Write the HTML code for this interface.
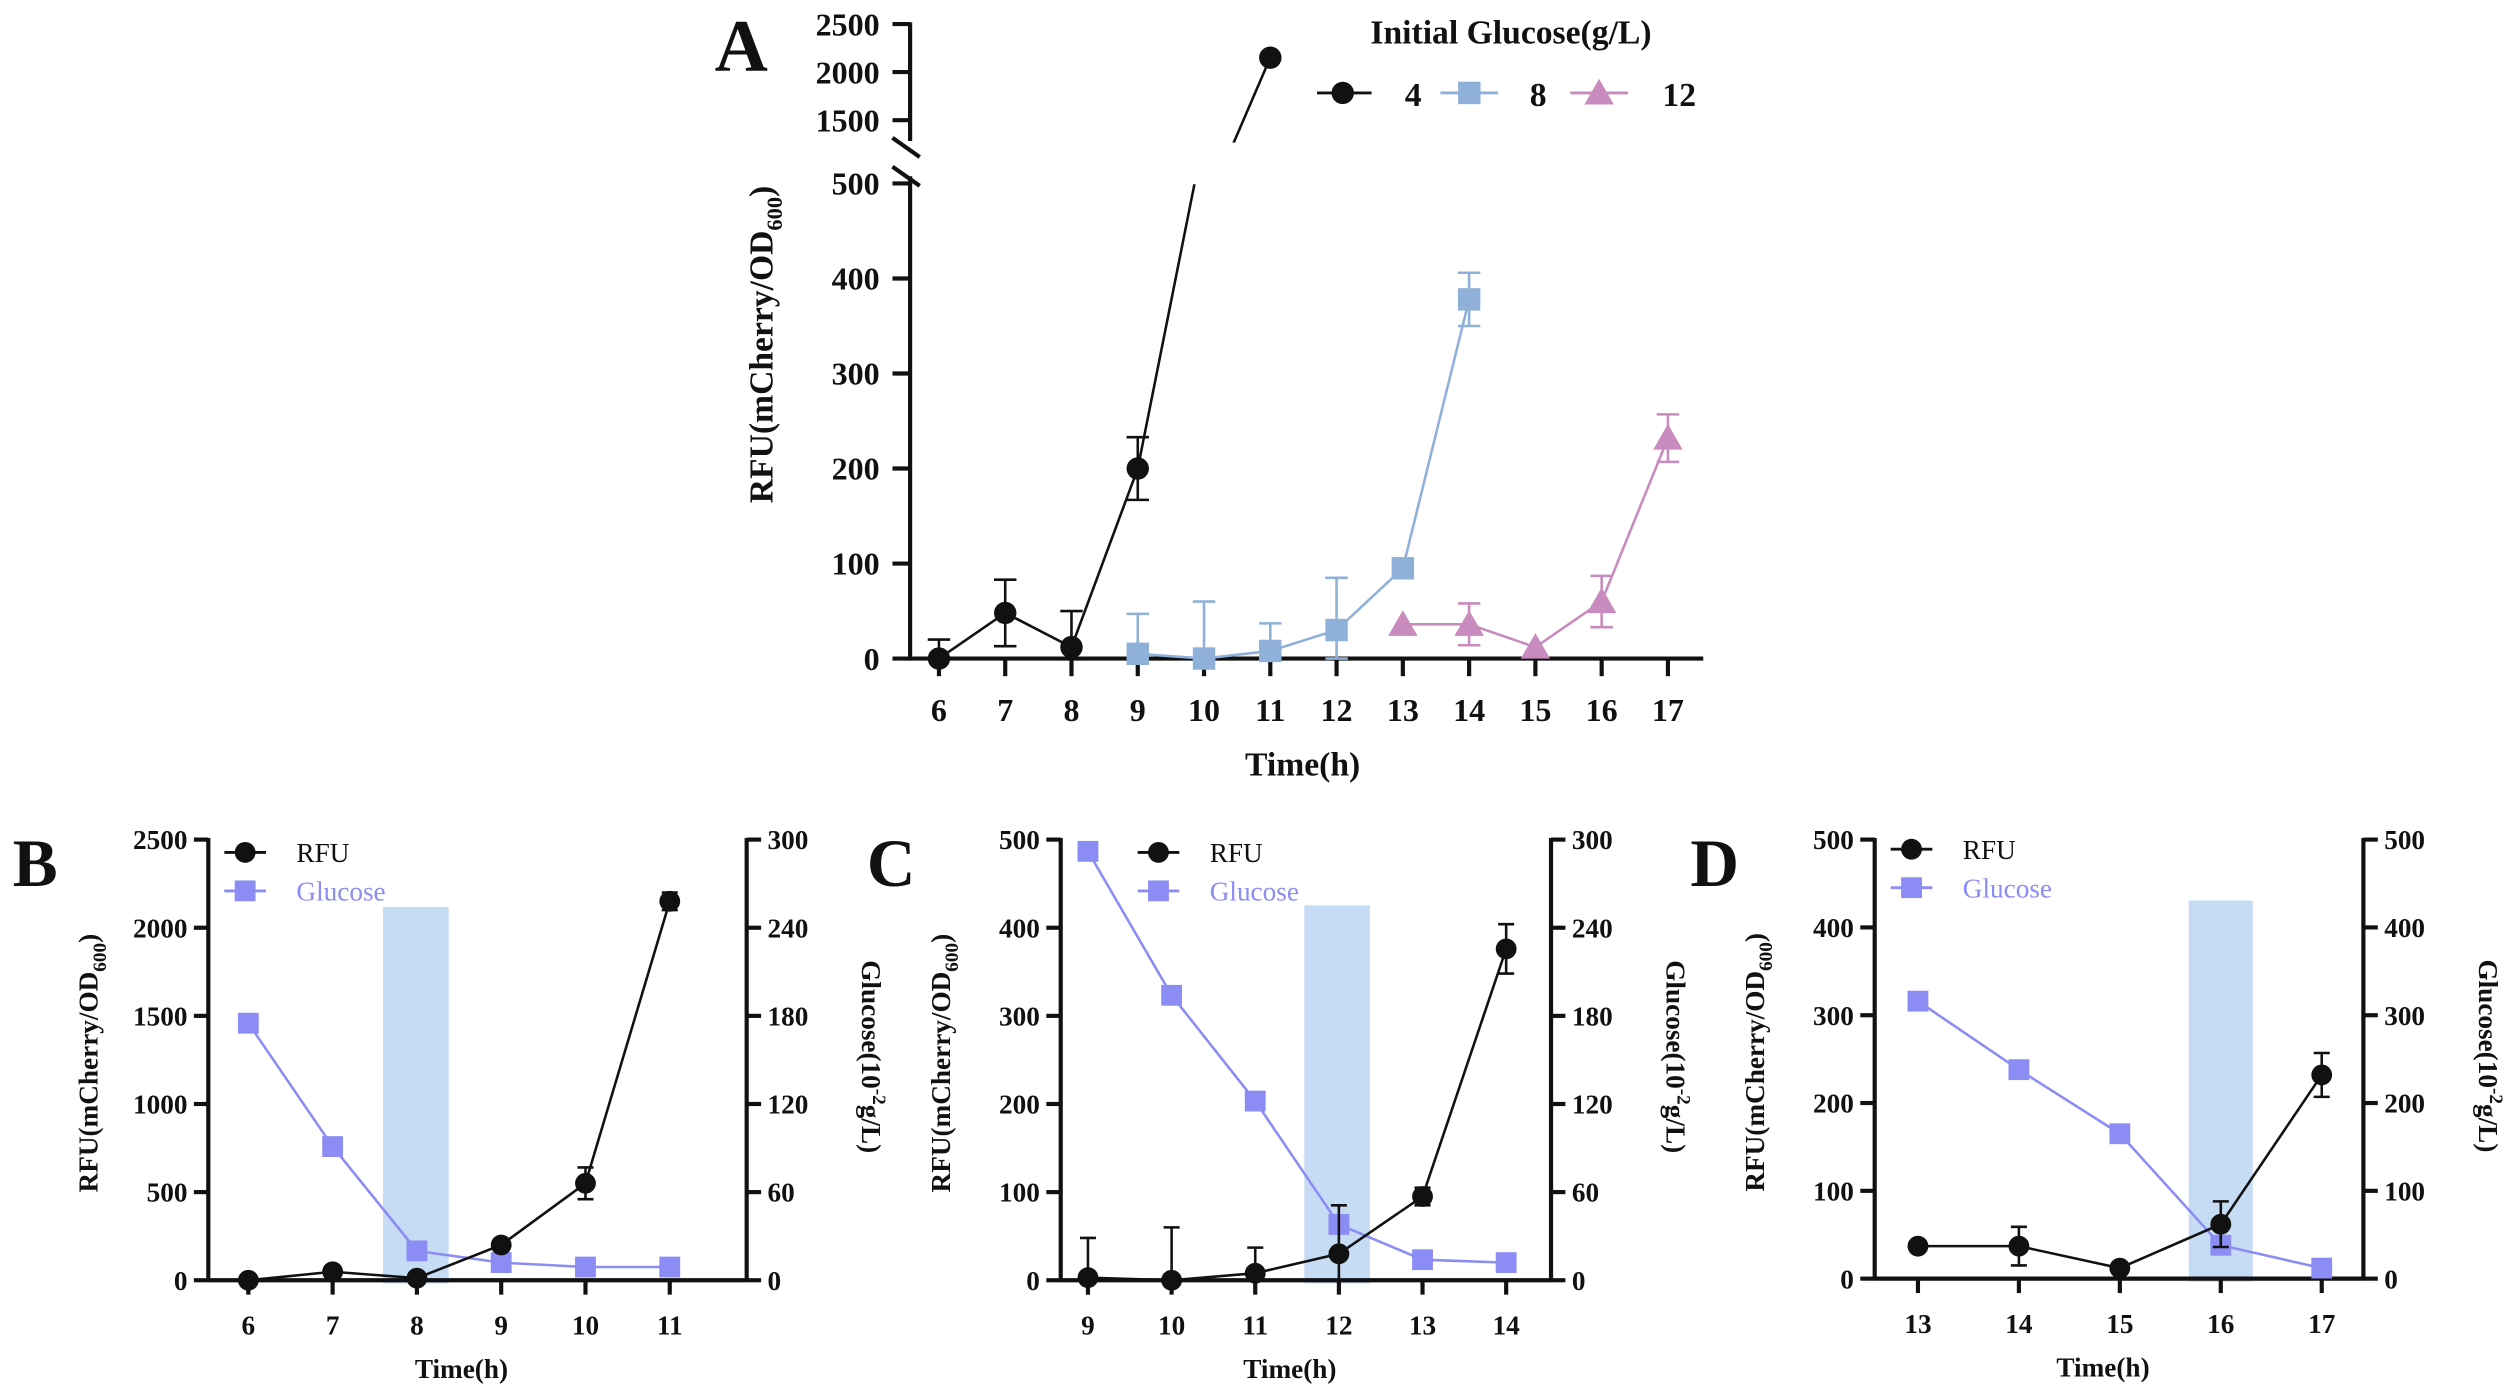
<!DOCTYPE html>
<html><head><meta charset="utf-8">
<style>
html,body{margin:0;padding:0;background:#fff;}
svg{display:block;}
svg text{font-family:"Liberation Serif","Times New Roman",serif !important;}
</style></head>
<body>
<svg id="fig" width="2506" height="1390" viewBox="0 0 1564 867.5" preserveAspectRatio="none" xmlns="http://www.w3.org/2000/svg" font-family="Liberation Serif, Times New Roman, serif">
<defs>
<clipPath id="clipLow"><rect x="560" y="115" width="520" height="320"/></clipPath>
<clipPath id="clipUp"><rect x="560" y="0" width="520" height="89"/></clipPath>
</defs>
<g id="root" font-family="Liberation Serif, Times New Roman, serif"></g>
</svg>
<script>
// ---------- Panel A data ----------
const timeA4 = [6,7,8,9,10,11];
const rfuA4 = [0,48,12,200,550,2150];
const errA4 = [20,35,38,33,0,0];
const timeA8 = [9,10,11,12,13,14];
const rfuA8 = [5,0,8,30,95,378];
const errA8 = [42,60,29,55,6,28];
const timeA12 = [13,14,15,16,17];
const rfuA12 = [36,36,12,60,232];
const errA12 = [0,22,0,27,25];
const ticksAx = [6,7,8,9,10,11,12,13,14,15,16,17];
const ticksAlow = [0,100,200,300,400,500];
const ticksAup = [1500,2000,2500];
// ---------- Panel B data ----------
const timeB = [6,7,8,9,10,11];
const rfuB = [0,48,12,200,550,2150];
const errB = [0,0,0,0,90,50];
const gluB = [175,91,20,12,9,9];
const ticksBl = [0,500,1000,1500,2000,2500];
const ticksBr = [0,60,120,180,240,300];
// ---------- Panel C data ----------
const timeC = [9,10,11,12,13,14];
const rfuC = [3,0,8,30,95,376];
const errC = [45,60,29,55,10,28];
const gluC = [292,194,122,38,14,12];
const ticksCl = [0,100,200,300,400,500];
const ticksCr = [0,60,120,180,240,300];
// ---------- Panel D data ----------
const timeD = [13,14,15,16,17];
const rfuD = [37,37,12,62,232];
const errD = [0,22,0,26,25];
const gluD = [316,238,165,38,12];
const ticksDl = [0,100,200,300,400,500];
const ticksDr = [0,100,200,300,400,500];

const NS = "http://www.w3.org/2000/svg";
const root = document.getElementById('root');
const FF = '"Liberation Serif", "Times New Roman", serif';
function mk(tag, attrs, parent, txt){
  const e = document.createElementNS(NS, tag);
  for (const k in attrs) e.setAttribute(k, attrs[k]);
  if (tag === 'text') e.setAttribute('font-family', FF);
  if (txt !== undefined) e.textContent = txt;
  (parent||root).appendChild(e);
  return e;
}
const BLACK = '#111', BLUE = '#8fb0d8', PINK = '#c98bbd', GLU = '#8c8cf5', SHADE = '#c6dcf5';

function marker(shape, x, y, color, size, parent, name){
  let m;
  if (shape === 'circle') m = mk('circle', {cx:x, cy:y, r:size, fill:color}, parent);
  else if (shape === 'square') m = mk('rect', {x:x-size, y:y-size, width:2*size, height:2*size, fill:color}, parent);
  else m = mk('polygon', {points:`${x},${y-size*1.1} ${x-size*1.15},${y+size*0.9} ${x+size*1.15},${y+size*0.9}`, fill:color}, parent);
  
  
  return m;
}
function errbar(x, y1, y2, color, cap, parent){
  const g = mk('g', {stroke:color, 'stroke-width':1.6}, parent);
  
  
  mk('line', {x1:x, y1:y1, x2:x, y2:y2}, g);
  mk('line', {x1:x-cap, y1:y1, x2:x+cap, y2:y1}, g);
  mk('line', {x1:x-cap, y1:y2, x2:x+cap, y2:y2}, g);
}
function polyline(xs, ys, color, parent, clip){
  const pts = xs.map((x,i)=>x+','+ys[i]).join(' ');
  const a = {points:pts, fill:'none', stroke:color, 'stroke-width':1.6};
  if (clip) a['clip-path'] = clip;
  const p = mk('polyline', a, parent);
  
  
  return p;
}
function yLabel(x, y, rot, size, parent, name){
  const t = mk('text', {x:0, y:0, transform:`translate(${x},${y}) rotate(${rot})`, 'text-anchor':'middle', 'font-size':size, 'font-weight':'bold', fill:BLACK}, parent);
  
  
  return t;
}

// ================= PANEL A =================
(function(){
  const g = mk('g', {});
  
  
  const xA = t => 586 + (t-6)*41.36;
  const yLow = v => 411 - v*0.593;
  const yUp = v => 75 - (v-1500)*0.06;
  const L = mk('text', {x:446, y:44, 'font-size':46, 'font-weight':'bold', fill:BLACK}, g, 'A');
   
  const ax = mk('g', {stroke:BLACK, 'stroke-width':2.6, fill:'none'}, g);
   
  mk('line', {x1:568, y1:14, x2:568, y2:88}, ax);
  mk('line', {x1:568, y1:110, x2:568, y2:412}, ax);
  mk('line', {x1:557, y1:86, x2:574, y2:98}, ax);
  mk('line', {x1:557, y1:104, x2:574, y2:116}, ax);
  mk('line', {x1:567, y1:411, x2:1063, y2:411}, ax);
  ticksAx.forEach(t=>{
    mk('line', {x1:xA(t), y1:411, x2:xA(t), y2:422}, ax);
    const tx = mk('text', {x:xA(t), y:450, 'text-anchor':'middle', 'font-size':20, 'font-weight':'bold', fill:BLACK, stroke:'none'}, g, t);
     
  });
  ticksAlow.forEach(v=>{
    mk('line', {x1:557, y1:yLow(v), x2:568, y2:yLow(v)}, ax);
    const tx = mk('text', {x:549, y:yLow(v)+7, 'text-anchor':'end', 'font-size':20, 'font-weight':'bold', fill:BLACK, stroke:'none'}, g, v);
     
  });
  ticksAup.forEach(v=>{
    mk('line', {x1:557, y1:yUp(v), x2:568, y2:yUp(v)}, ax);
    const tx = mk('text', {x:549, y:yUp(v)+7, 'text-anchor':'end', 'font-size':20, 'font-weight':'bold', fill:BLACK, stroke:'none'}, g, v);
     
  });
  const xt = mk('text', {x:813, y:484, 'text-anchor':'middle', 'font-size':21, 'font-weight':'bold', fill:BLACK}, g, 'Time(h)');
   
  const yt = yLabel(482, 215, -90, 21, g, 'y-axis-title');
  yt.innerHTML = 'RFU(mCherry/OD<tspan font-size="14" dy="6">600</tspan><tspan dy="-6">)</tspan>';

  const sg = mk('g', {}, g);  
  const xs4 = timeA4.map(xA);
  polyline(xs4, rfuA4.map(yLow), BLACK, sg, 'url(#clipLow)');
  polyline(xs4, rfuA4.map(yUp), BLACK, sg, 'url(#clipUp)');
  timeA4.forEach((t,i)=>{
    const v = rfuA4[i];
    if (v <= 500) {
      if (errA4[i]) errbar(xA(t), yLow(v+errA4[i]), yLow(Math.max(0,v-errA4[i])), BLACK, 7, sg);
      marker('circle', xA(t), yLow(v), BLACK, 7, sg, 'point-4');
    } else if (v >= 1250) {
      marker('circle', xA(t), yUp(v), BLACK, 7, sg, 'point-4');
    }
  });
  const s8 = mk('g', {}, g);  
  polyline(timeA8.map(xA), rfuA8.map(yLow), BLUE, s8);
  timeA8.forEach((t,i)=>{
    if (errA8[i]) errbar(xA(t), yLow(rfuA8[i]+errA8[i]), yLow(Math.max(0,rfuA8[i]-errA8[i])), BLUE, 7, s8);
    marker('square', xA(t), yLow(rfuA8[i]), BLUE, 7, s8, 'point-8');
  });
  const s12 = mk('g', {}, g);  
  polyline(timeA12.map(xA), rfuA12.map(yLow), PINK, s12);
  timeA12.forEach((t,i)=>{
    if (errA12[i]) errbar(xA(t), yLow(rfuA12[i]+errA12[i]), yLow(Math.max(0,rfuA12[i]-errA12[i])), PINK, 7, s12);
    marker('tri', xA(t), yLow(rfuA12[i]), PINK, 8, s12, 'point-12');
  });
  const lg = mk('g', {}, g);  
  mk('text', {x:943, y:27, 'text-anchor':'middle', 'font-size':21, 'font-weight':'bold', fill:BLACK}, lg, 'Initial Glucose(g/L)');
  const ents = [[822,856,838,'circle',BLACK,882,'4'],[899,935,917,'square',BLUE,960,'8'],[980,1016,998,'tri',PINK,1048,'12']];
  ents.forEach(e=>{
    const eg = mk('g', {}, lg);  
    mk('line', {x1:e[0], y1:58, x2:e[1], y2:58, stroke:e[4], 'stroke-width':1.8}, eg);
    marker(e[3], e[2], 58, e[4], e[3]==='tri'?8:7, eg, 'legend-marker');
    mk('text', {x:e[5], y:66, 'text-anchor':'middle', 'font-size':21, 'font-weight':'bold', fill:BLACK}, eg, e[6]);
  });
})();

// ================= PANELS B, C, D =================
function dualPanel(cfg){
  const g = mk('g', {});
  
  
  const x = t => cfg.x0 + (t - cfg.t0)*cfg.dx;
  const yL = v => cfg.yb - v/cfg.lmax*(cfg.yb-cfg.yt);
  const yR = v => cfg.yb - v/cfg.rmax*(cfg.yb-cfg.yt);
  const L = mk('text', {x:cfg.labX, y:553, 'font-size':42, 'font-weight':'bold', fill:BLACK}, g, cfg.letter);
   
  const sh = mk('rect', {x:cfg.sx0, y:cfg.sy, width:cfg.sx1-cfg.sx0, height:cfg.yb+2-cfg.sy, fill:SHADE}, g);
   
  const ax = mk('g', {stroke:BLACK, 'stroke-width':2.6, fill:'none'}, g);
   
  mk('line', {x1:cfg.lx, y1:cfg.yt-1, x2:cfg.lx, y2:cfg.yb+1}, ax);
  mk('line', {x1:cfg.rx, y1:cfg.yt-1, x2:cfg.rx, y2:cfg.yb+1}, ax);
  mk('line', {x1:cfg.lx, y1:cfg.yb, x2:cfg.rx, y2:cfg.yb}, ax);
  cfg.times.forEach(t=>{
    mk('line', {x1:x(t), y1:cfg.yb, x2:x(t), y2:cfg.yb+9}, ax);
    const tx = mk('text', {x:x(t), y:cfg.yb+34, 'text-anchor':'middle', 'font-size':17, 'font-weight':'bold', fill:BLACK, stroke:'none'}, g, t);
     
  });
  cfg.tl.forEach(v=>{
    mk('line', {x1:cfg.lx-9, y1:yL(v), x2:cfg.lx, y2:yL(v)}, ax);
    const tx = mk('text', {x:cfg.lx-13, y:yL(v)+6, 'text-anchor':'end', 'font-size':17, 'font-weight':'bold', fill:BLACK, stroke:'none'}, g, v);
     
  });
  cfg.tr.forEach(v=>{
    mk('line', {x1:cfg.rx, y1:yR(v), x2:cfg.rx+9, y2:yR(v)}, ax);
    const tx = mk('text', {x:cfg.rx+13, y:yR(v)+6, 'text-anchor':'start', 'font-size':17, 'font-weight':'bold', fill:BLACK, stroke:'none'}, g, v);
     
  });
  const xt = mk('text', {x:(cfg.lx+cfg.rx)/2-10, y:cfg.yb+61, 'text-anchor':'middle', 'font-size':17, 'font-weight':'bold', fill:BLACK}, g, 'Time(h)');
   
  const yt = yLabel(cfg.lx-69, (cfg.yt+cfg.yb)/2+2, -90, 17, g, 'left-axis-title');
  yt.innerHTML = 'RFU(mCherry/OD<tspan font-size="12" dy="5">600</tspan><tspan dy="-5">)</tspan>';
  const rt = yLabel(cfg.rx+72, (cfg.yt+cfg.yb)/2-2, 90, 17, g, 'right-axis-title');
  rt.innerHTML = 'Glucose(10<tspan font-size="12" dy="-7">-2</tspan><tspan dy="7">g/L)</tspan>';
  const gg = mk('g', {}, g);  
  polyline(cfg.times.map(x), cfg.glu.map(yR), GLU, gg);
  cfg.times.forEach((t,i)=> marker('square', x(t), yR(cfg.glu[i]), GLU, 6.5, gg, 'glucose-point'));
  const rg = mk('g', {}, g);  
  polyline(cfg.times.map(x), cfg.rfu.map(yL), BLACK, rg);
  cfg.times.forEach((t,i)=>{
    if (cfg.err[i]) errbar(x(t), yL(cfg.rfu[i]+cfg.err[i]), yL(Math.max(0,cfg.rfu[i]-cfg.err[i])), BLACK, 5, rg);
    marker('circle', x(t), yL(cfg.rfu[i]), BLACK, 6.5, rg, 'rfu-point');
  });
  const lg = mk('g', {}, g);  
  const e1 = mk('g', {}, lg);  
  mk('line', {x1:cfg.lgx, y1:cfg.lgy, x2:cfg.lgx+26, y2:cfg.lgy, stroke:BLACK, 'stroke-width':1.8}, e1);
  marker('circle', cfg.lgx+13, cfg.lgy, BLACK, 6.5, e1, 'legend-marker');
  mk('text', {x:cfg.lgx+45, y:cfg.lgy+6, 'font-size':17, fill:BLACK}, e1, 'RFU');
  const e2 = mk('g', {}, lg);  
  mk('line', {x1:cfg.lgx, y1:cfg.lgy+24, x2:cfg.lgx+26, y2:cfg.lgy+24, stroke:GLU, 'stroke-width':1.8}, e2);
  marker('square', cfg.lgx+13, cfg.lgy+24, GLU, 6.5, e2, 'legend-marker');
  mk('text', {x:cfg.lgx+45, y:cfg.lgy+30, 'font-size':17, fill:GLU}, e2, 'Glucose');
}

dualPanel({name:'panel-b', letter:'B', labX:8, lx:130, rx:466, yt:524, yb:799, x0:155, t0:6, dx:52.6,
  lmax:2500, rmax:300, tl:ticksBl, tr:ticksBr, times:timeB, rfu:rfuB, err:errB, glu:gluB,
  sx0:239, sx1:280, sy:566, lgx:140, lgy:532});
dualPanel({name:'panel-c', letter:'C', labX:541, lx:662, rx:968, yt:524, yb:799, x0:679, t0:9, dx:52.2,
  lmax:500, rmax:300, tl:ticksCl, tr:ticksCr, times:timeC, rfu:rfuC, err:errC, glu:gluC,
  sx0:814, sx1:855, sy:565, lgx:710, lgy:532});
dualPanel({name:'panel-d', letter:'D', labX:1055, lx:1170, rx:1475, yt:524, yb:798, x0:1197, t0:13, dx:63,
  lmax:500, rmax:500, tl:ticksDl, tr:ticksDr, times:timeD, rfu:rfuD, err:errD, glu:gluD,
  sx0:1366, sx1:1406, sy:562, lgx:1180, lgy:530});
</script>
</body></html>
